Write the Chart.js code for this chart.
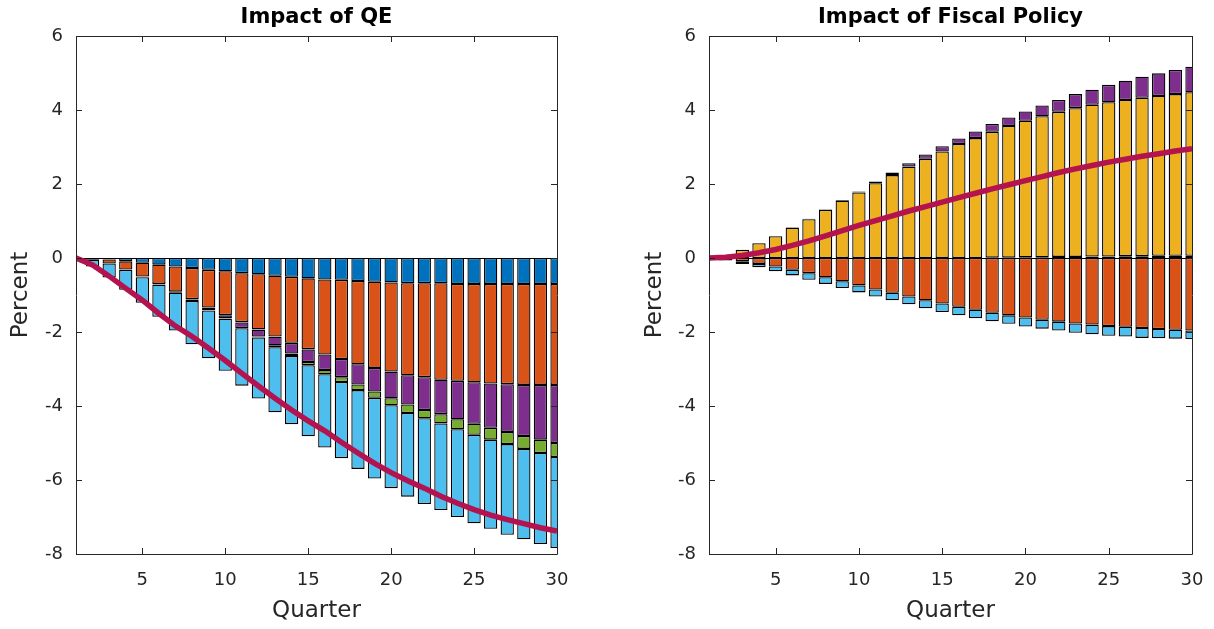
<!DOCTYPE html>
<html>
<head>
<meta charset="utf-8">
<title>Impact of QE and Fiscal Policy</title>
<script src="https://cdn.jsdelivr.net/npm/chart.js@4.4.1/dist/chart.umd.min.js"></script>
<style>
  html, body { margin: 0; padding: 0; background: #fff; }
  .panel { position: absolute; top: 0; width: 607px; height: 629px; }
  #qe-panel { left: 0; }
  #fiscal-panel { left: 607px; }
</style>
</head>
<body>
<div class="panel" id="qe-panel"><canvas id="qeChart"></canvas></div>
<div class="panel" id="fiscal-panel"><canvas id="fiscalChart"></canvas></div>
<script>
const quarters = [1, 2, 3, 4, 5, 6, 7, 8, 9, 10, 11, 12, 13, 14, 15, 16, 17, 18, 19, 20, 21, 22, 23, 24, 25, 26, 27, 28, 29, 30];
const xTicks = [5, 10, 15, 20, 25, 30];
const yTicks = [-8, -6, -4, -2, 0, 2, 4, 6];

// MATLAB default colour order
const seriesColors = ['#0072BD', '#D95319', '#EDB120', '#7E2F8E', '#77AC30', '#4DBEEE'];
const lineColor = '#B3134F';
const axisColor = '#262626';

// --- Impact of QE ---
const qeBlue = [0, -0.02, -0.04, -0.09, -0.13, -0.18, -0.23, -0.27, -0.32, -0.36, -0.41, -0.44, -0.48, -0.51, -0.55, -0.58, -0.59, -0.62, -0.64, -0.66, -0.68, -0.68, -0.68, -0.70, -0.70, -0.70, -0.70, -0.70, -0.70, -0.70];
const qeOrange = [0, -0.03, -0.11, -0.22, -0.37, -0.52, -0.68, -0.84, -1.02, -1.18, -1.32, -1.49, -1.64, -1.78, -1.91, -2.03, -2.14, -2.25, -2.33, -2.41, -2.49, -2.54, -2.61, -2.62, -2.66, -2.69, -2.71, -2.73, -2.73, -2.73];
const qeYellow = [0, 0, 0, -0.01, -0.01, -0.01, -0.01, -0.01, -0.01, -0.01, -0.01, -0.01, -0.01, -0.01, -0.01, 0, 0, 0, 0, 0, 0, 0, 0, 0, 0, 0, 0, 0, 0, 0];
const qePurple = [0, 0, 0, 0, -0.01, -0.01, -0.02, -0.04, -0.06, -0.08, -0.15, -0.18, -0.23, -0.28, -0.34, -0.42, -0.49, -0.55, -0.64, -0.72, -0.79, -0.89, -0.93, -1.04, -1.12, -1.20, -1.29, -1.38, -1.48, -1.57];
const qeGreen = [0, 0, 0, 0, 0, 0, 0, 0, -0.01, -0.01, -0.01, -0.03, -0.05, -0.07, -0.09, -0.11, -0.13, -0.15, -0.17, -0.19, -0.23, -0.22, -0.25, -0.27, -0.30, -0.32, -0.33, -0.35, -0.36, -0.38];
const qeLightBlue = [-0.02, -0.18, -0.38, -0.54, -0.69, -0.87, -1.02, -1.17, -1.29, -1.41, -1.55, -1.65, -1.76, -1.84, -1.92, -1.98, -2.06, -2.13, -2.18, -2.24, -2.26, -2.32, -2.34, -2.37, -2.39, -2.41, -2.45, -2.44, -2.46, -2.46];
const qeTotal = [0, -0.19, -0.49, -0.82, -1.14, -1.50, -1.84, -2.12, -2.44, -2.77, -3.12, -3.46, -3.79, -4.11, -4.40, -4.67, -4.98, -5.27, -5.55, -5.80, -6.02, -6.22, -6.44, -6.63, -6.80, -6.95, -7.07, -7.18, -7.29, -7.38];

// --- Impact of Fiscal Policy ---
const fpBlue = [0, 0, 0, 0, 0, 0, 0, 0, 0, 0, 0, 0, 0, 0, 0, 0, 0, 0.01, 0.01, 0.02, 0.02, 0.03, 0.03, 0.04, 0.04, 0.05, 0.05, 0.06, 0.06, 0.06];
const fpOrange = [-0.01, -0.03, -0.09, -0.16, -0.23, -0.32, -0.41, -0.52, -0.63, -0.74, -0.85, -0.94, -1.04, -1.14, -1.23, -1.32, -1.40, -1.48, -1.55, -1.61, -1.67, -1.72, -1.77, -1.80, -1.84, -1.86, -1.89, -1.92, -1.94, -1.96];
const fpYellow = [0, 0.03, 0.22, 0.40, 0.59, 0.82, 1.05, 1.30, 1.55, 1.77, 2.02, 2.24, 2.47, 2.68, 2.88, 3.08, 3.24, 3.40, 3.56, 3.69, 3.81, 3.92, 4.02, 4.10, 4.17, 4.22, 4.28, 4.32, 4.37, 4.42];
const fpPurple = [0, 0, 0, 0, 0, 0.01, 0.01, 0.01, 0.02, 0.03, 0.05, 0.07, 0.09, 0.12, 0.14, 0.15, 0.18, 0.21, 0.23, 0.25, 0.29, 0.32, 0.38, 0.41, 0.47, 0.52, 0.57, 0.61, 0.65, 0.69];
const fpGreen = [0, 0, 0, 0, 0, 0, 0, 0, 0, 0, 0, 0, 0, 0, 0, 0, 0, 0, 0, 0, 0, 0, 0, 0, 0, 0, 0, 0, 0, 0];
const fpLightBlue = [-0.01, -0.04, -0.07, -0.09, -0.13, -0.15, -0.18, -0.18, -0.18, -0.19, -0.19, -0.20, -0.21, -0.22, -0.23, -0.23, -0.23, -0.23, -0.23, -0.24, -0.24, -0.24, -0.25, -0.26, -0.26, -0.26, -0.27, -0.25, -0.24, -0.23];
const fpTotal = [0, 0.02, 0.07, 0.14, 0.23, 0.34, 0.46, 0.60, 0.74, 0.88, 1.01, 1.14, 1.27, 1.39, 1.51, 1.63, 1.75, 1.87, 1.98, 2.09, 2.20, 2.31, 2.41, 2.50, 2.59, 2.67, 2.75, 2.82, 2.89, 2.95];

Chart.defaults.font.family = '"DejaVu Sans", sans-serif';
Chart.defaults.color = axisColor;

// box round the axes, inward ticks on all four sides, bar baseline at 0
const axisFrame = {
    id: 'axisFrame',
    beforeDatasetsDraw(chart) {
        const { ctx, chartArea: a, scales: { y } } = chart;
        const y0 = Math.round(y.getPixelForValue(0)) + 0.5;
        ctx.save();
        ctx.strokeStyle = '#000';
        ctx.lineWidth = 1;
        ctx.beginPath();
        ctx.moveTo(a.left, y0);
        ctx.lineTo(a.right, y0);
        ctx.stroke();
        ctx.restore();
    },
    afterDraw(chart) {
        const { ctx, chartArea: a, scales: { x, y } } = chart;
        const len = 6;
        ctx.save();
        ctx.strokeStyle = axisColor;
        ctx.lineWidth = 1;
        ctx.beginPath();
        ctx.rect(Math.round(a.left) + 0.5, Math.round(a.top) + 0.5, Math.round(a.right - a.left), Math.round(a.bottom - a.top));
        xTicks.forEach(v => {
            const px = Math.round(x.getPixelForValue(v)) + 0.5;
            ctx.moveTo(px, a.bottom);
            ctx.lineTo(px, a.bottom - len);
            ctx.moveTo(px, a.top);
            ctx.lineTo(px, a.top + len);
        });
        yTicks.forEach(v => {
            const py = Math.round(y.getPixelForValue(v)) + 0.5;
            ctx.moveTo(a.left, py);
            ctx.lineTo(a.left + len, py);
            ctx.moveTo(a.right, py);
            ctx.lineTo(a.right - len, py);
        });
        ctx.stroke();
        ctx.restore();
    }
};

function makePanel(canvasId, title, parts, total, plotLeft, padRight, yTitlePad) {
    const datasets = parts.map((values, i) => ({
        type: 'bar',
        data: values,
        backgroundColor: seriesColors[i],
        borderColor: '#000',
        borderWidth: 1.3,
        borderSkipped: false,
        barPercentage: 0.8,
        categoryPercentage: 1,
        clip: 0,
        order: 1
    }));
    datasets.push({
        type: 'line',
        data: total,
        borderColor: lineColor,
        borderWidth: 5.5,
        pointRadius: 0,
        fill: false,
        stack: 'total',
        clip: 0,
        order: 0
    });

    return new Chart(document.getElementById(canvasId), {
        type: 'bar',
        data: { labels: quarters, datasets },
        options: {
            responsive: true,
            maintainAspectRatio: false,
            animation: false,
            layout: { padding: { left: 0, right: padRight, top: 0, bottom: 0 } },
            plugins: {
                legend: { display: false },
                tooltip: { enabled: false },
                title: {
                    display: true,
                    text: title,
                    fullSize: false,
                    color: '#000',
                    font: { size: 21, weight: 'bold' },
                    padding: { top: 5.4, bottom: 5.4 }
                }
            },
            scales: {
                x: {
                    type: 'linear',
                    stacked: true,
                    offset: false,
                    min: 1,
                    max: 30,
                    grid: { display: false, drawTicks: false },
                    border: { display: false },
                    afterBuildTicks: s => { s.ticks = xTicks.map(v => ({ value: v })); },
                    afterFit: s => {
                        s.height = 75;
                        s.paddingLeft = 0;
                        s.paddingRight = 0;
                    },
                    ticks: { font: { size: 18 }, padding: 16, maxRotation: 0 },
                    title: { display: true, text: 'Quarter', font: { size: 23 }, padding: { top: 0, bottom: 4 } }
                },
                y: {
                    stacked: true,
                    min: -8,
                    max: 6,
                    grid: { display: false, drawTicks: false },
                    border: { display: false },
                    afterBuildTicks: s => { s.ticks = yTicks.map(v => ({ value: v })); },
                    afterFit: s => { s.width = plotLeft; },
                    ticks: { font: { size: 18 }, padding: 13 },
                    title: { display: true, text: 'Percent', font: { size: 23 }, padding: { top: yTitlePad, bottom: 0 } }
                }
            }
        },
        plugins: [axisFrame]
    });
}

makePanel('qeChart', 'Impact of QE',
    [qeBlue, qeOrange, qeYellow, qePurple, qeGreen, qeLightBlue], qeTotal, 76, 50, 7);
makePanel('fiscalChart', 'Impact of Fiscal Policy',
    [fpBlue, fpOrange, fpYellow, fpPurple, fpGreen, fpLightBlue], fpTotal, 102, 22, 34);
</script>
</body>
</html>
